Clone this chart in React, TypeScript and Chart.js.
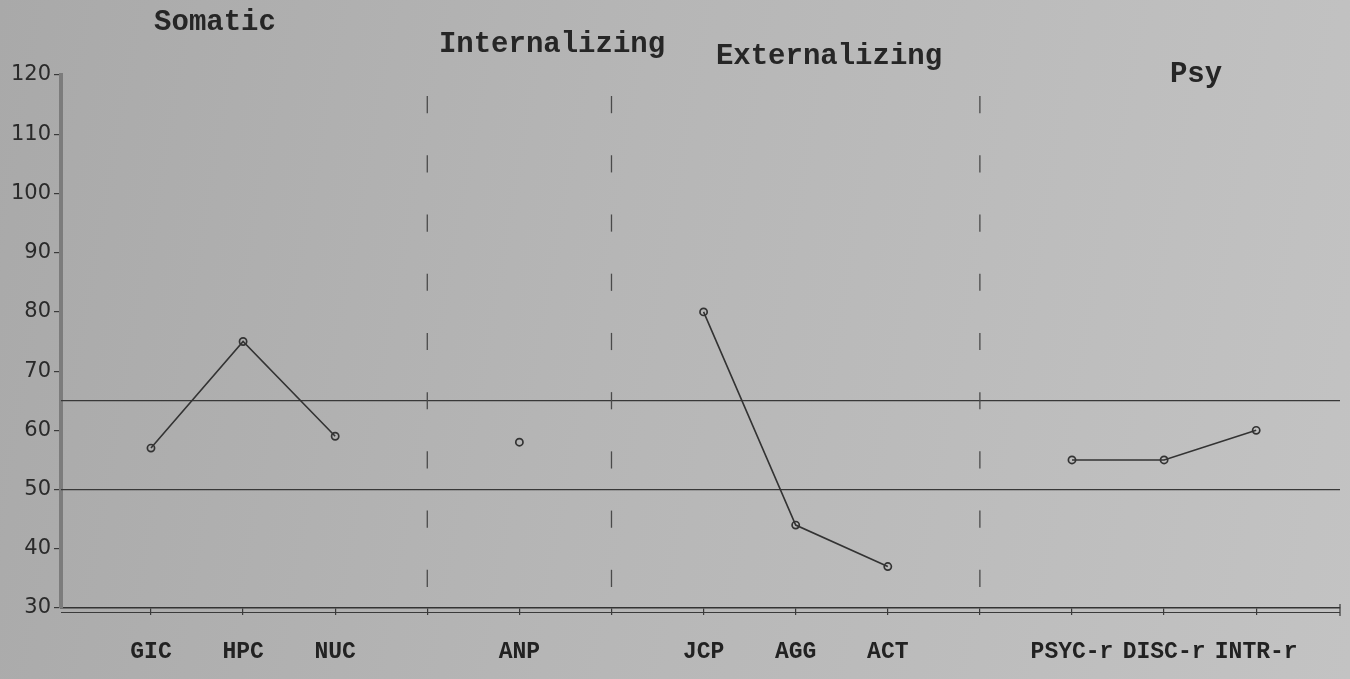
import React, { useEffect, useRef } from "react";
import { Chart, registerables } from "chart.js";

Chart.register(...registerables);

// ---- data ----
const categories = ["GIC", "HPC", "NUC", "", "ANP", "", "JCP", "AGG", "ACT", "", "PSYC-r", "DISC-r", "INTR-r"];
const scores: (number | null)[] = [57, 75, 59, null, 58, null, 80, 44, 37, null, 55, 55, 60];
const yMin = 30;
const yMax = 120;
const yStep = 10;
const thresholds = [65, 50];
const separatorIndices = [3, 5, 9];
const dashCenters = [35, 45, 55, 65, 75, 85, 95, 105, 115];
const dashHalf = 1.45;
const groupTitles = ["Somatic", "Internalizing", "Externalizing", "Psy"];

// ---- layout (pixels) ----
const titleLayout = [
  { x: 215, y: 23 },
  { x: 552, y: 45 },
  { x: 829, y: 57 },
  { x: 1196, y: 75 },
];

const decorPlugin = {
  id: "decor",
  beforeDatasetsDraw(chart: any) {
    const { ctx, chartArea } = chart;
    const xs = chart.scales.x;
    const ys = chart.scales.y;
    ctx.save();
    ctx.strokeStyle = "#383838";
    ctx.lineWidth = 1.3;
    thresholds.forEach((t) => {
      const y = ys.getPixelForValue(t);
      ctx.beginPath();
      ctx.moveTo(chartArea.left, y);
      ctx.lineTo(chartArea.right, y);
      ctx.stroke();
    });
    ctx.strokeStyle = "#4a4a4a";
    ctx.lineWidth = 1.3;
    separatorIndices.forEach((idx) => {
      const x = xs.getPixelForValue(idx);
      dashCenters.forEach((c) => {
        ctx.beginPath();
        ctx.moveTo(x, ys.getPixelForValue(c + dashHalf));
        ctx.lineTo(x, ys.getPixelForValue(c - dashHalf));
        ctx.stroke();
      });
    });
    ctx.restore();
  },
  afterDraw(chart: any) {
    const { ctx, chartArea } = chart;
    ctx.save();
    ctx.strokeStyle = "#3a3a3a";
    ctx.lineWidth = 1.2;
    ctx.beginPath();
    ctx.moveTo(chartArea.left, chartArea.bottom + 4.5);
    ctx.lineTo(chartArea.right, chartArea.bottom + 4.5);
    ctx.stroke();
    ctx.beginPath();
    ctx.moveTo(chartArea.right, chartArea.bottom - 4);
    ctx.lineTo(chartArea.right, chartArea.bottom + 8);
    ctx.stroke();
    ctx.fillStyle = "#262626";
    ctx.font = "bold 29px 'Liberation Mono', 'DejaVu Sans Mono', monospace";
    ctx.textAlign = "center";
    ctx.textBaseline = "middle";
    groupTitles.forEach((t, i) => {
      const p = titleLayout[i];
      ctx.fillText(t, p.x, p.y);
    });
    ctx.restore();
  },
};

export default function App() {
  const canvasRef = useRef<HTMLCanvasElement | null>(null);

  useEffect(() => {
    if (!canvasRef.current) return;
    const yTickValues: number[] = [];
    for (let v = yMin; v <= yMax; v += yStep) yTickValues.push(v);

    const chart = new Chart(canvasRef.current, {
      type: "line",
      data: {
        datasets: [
          {
            label: "T score",
            data: scores.map((v, i) => ({ x: i, y: v })) as any,
            borderColor: "#333333",
            borderWidth: 1.6,
            pointRadius: 3.6,
            pointBorderWidth: 1.7,
            pointBorderColor: "#333333",
            pointBackgroundColor: "rgba(0,0,0,0)",
            spanGaps: false,
            tension: 0,
          },
        ],
      },
      options: {
        responsive: false,
        animation: false,
        events: [],
        layout: { padding: { top: 75, right: 10, left: 0, bottom: 0 } },
        plugins: {
          legend: { display: false },
          tooltip: { enabled: false },
          title: { display: false },
        },
        scales: {
          x: {
            type: "linear",
            min: -0.977,
            max: 12.91,
            afterFit: (scale: any) => {
              scale.height = 71;
            },
            afterBuildTicks: (axis: any) => {
              axis.ticks = categories.map((_, i) => ({ value: i }));
            },
            grid: {
              drawOnChartArea: false,
              drawTicks: true,
              tickLength: 7,
              color: "#3a3a3a",
              lineWidth: 1.2,
            },
            border: { display: true, color: "#333333", width: 1.6 },
            ticks: {
              autoSkip: false,
              maxRotation: 0,
              padding: 23,
              color: "#222222",
              font: { family: "'Liberation Mono', 'DejaVu Sans Mono', monospace", size: 23, weight: "bold" },
              callback: (value: any) => categories[Math.round(Number(value))] ?? "",
            },
          },
          y: {
            type: "linear",
            min: yMin,
            max: yMax,
            afterFit: (scale: any) => {
              scale.width = 61;
            },
            afterBuildTicks: (axis: any) => {
              axis.ticks = yTickValues.map((v) => ({ value: v }));
            },
            grid: {
              drawOnChartArea: false,
              drawTicks: true,
              tickLength: 7,
              color: "#3a3a3a",
              lineWidth: 1.2,
            },
            border: { display: true, color: "#7c7c7c", width: 4 },
            ticks: {
              padding: 3,
              color: "#2a2a2a",
              font: { family: "'DejaVu Sans', Verdana, sans-serif", size: 21 },
            },
          },
        },
      },
      plugins: [decorPlugin],
    });
    return () => chart.destroy();
  }, []);

  return (
    <div
      style={{
        position: "fixed",
        left: 0,
        top: 0,
        width: 1350,
        height: 679,
        background: "linear-gradient(100deg, #a9a9a9 0%, #b6b6b6 45%, #c3c3c3 100%)",
      }}
    >
      <canvas ref={canvasRef} width={1350} height={679} style={{ display: "block" }} />
    </div>
  );
}
